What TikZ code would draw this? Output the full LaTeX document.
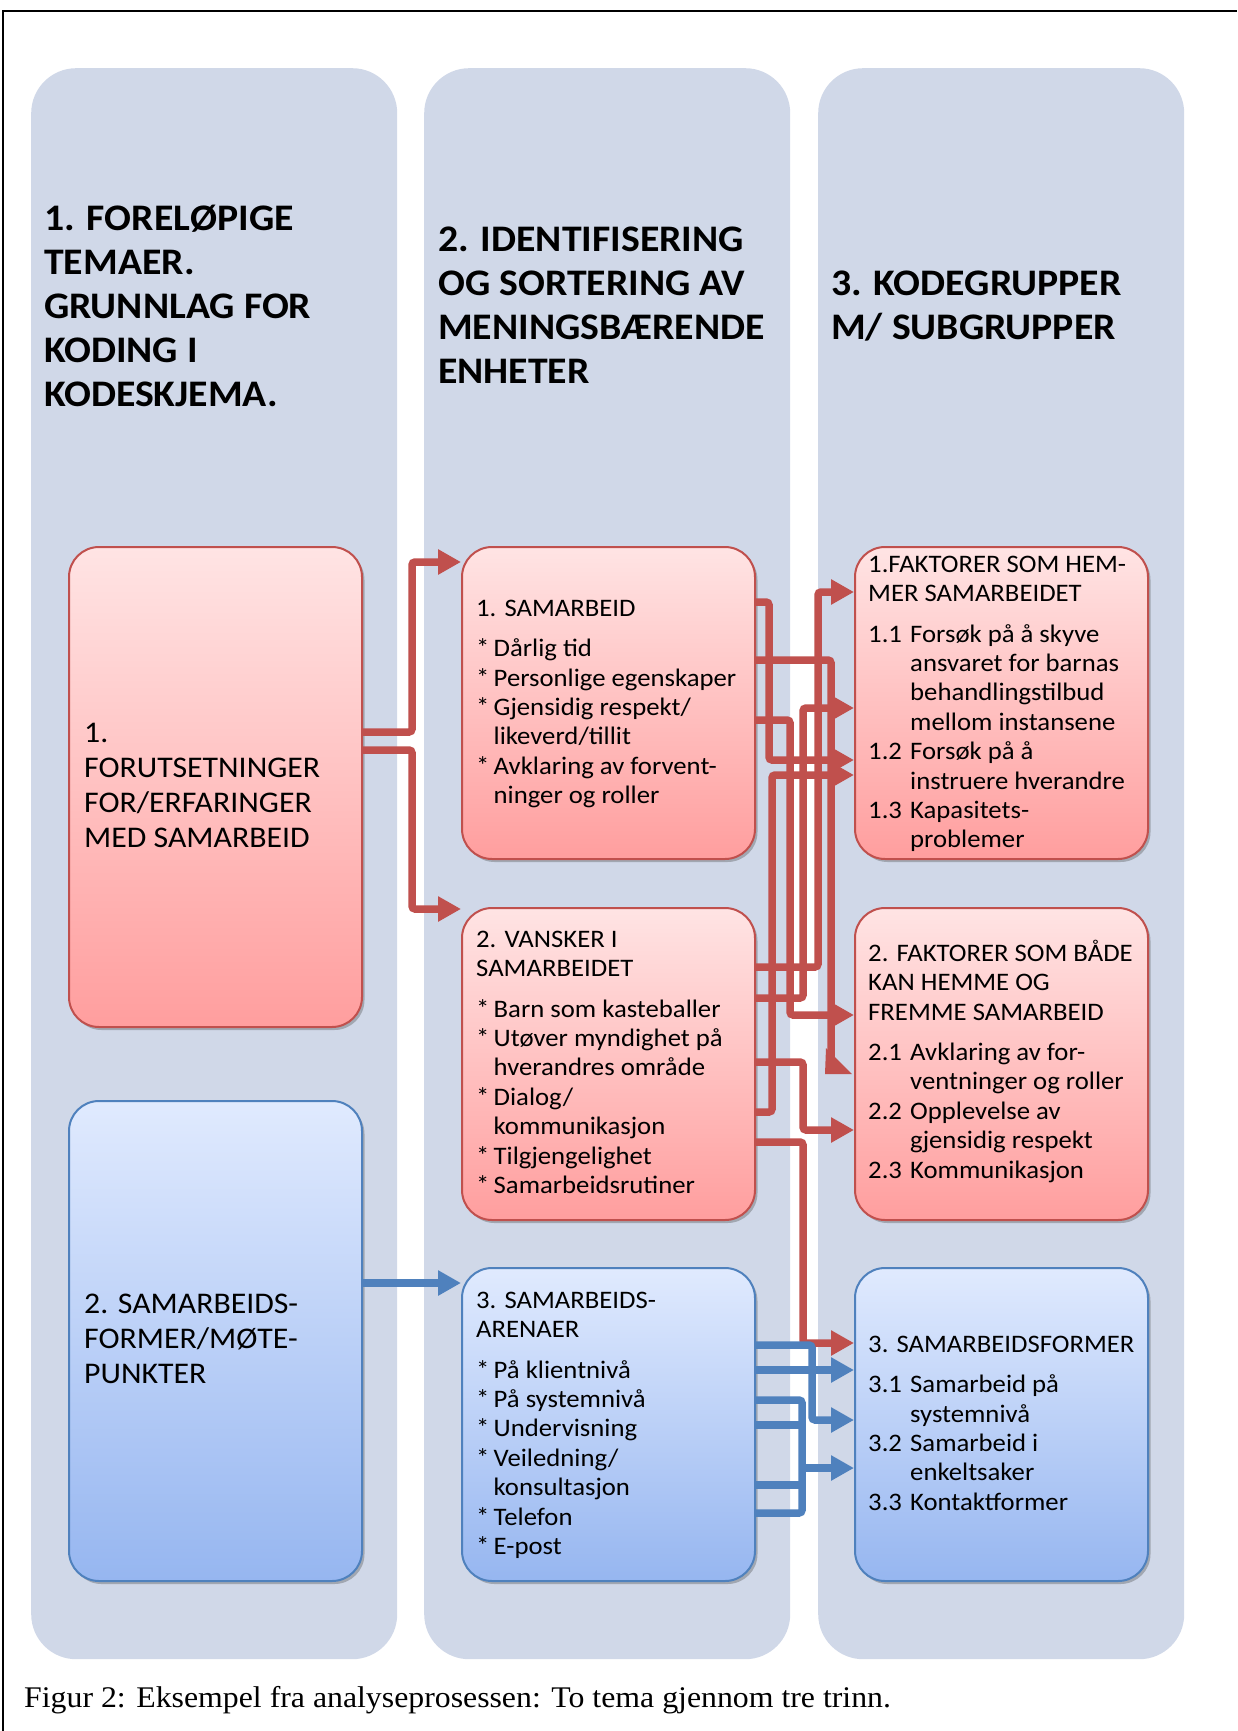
\documentclass[tikz,border=0pt]{standalone}
\usepackage{fontspec}
\setmainfont[FakeStretch=1.06]{Carlito}
\newfontfamily\capfont[FakeStretch=1.06]{Liberation Serif}
\usetikzlibrary{arrows.meta,shadows}
\definecolor{colbg}{HTML}{D0D8E8}
\definecolor{redln}{HTML}{C0504D}
\definecolor{redtop}{HTML}{FFE4E4}
\definecolor{redbot}{HTML}{FF9E9E}
\definecolor{blueln}{HTML}{4F81BD}
\definecolor{bluetop}{HTML}{E0EAFE}
\definecolor{bluebot}{HTML}{96B6F0}
\newcommand\stt[1]{\rule{0pt}{#1}}
\newcommand\bul{\makebox[17.5pt][l]{*}}
\newcommand\ind{\hspace*{17.5pt}}
\newcommand\nm[1]{\makebox[42pt][l]{#1}}
\newcommand\nind{\hspace*{42pt}}
\begin{document}
\begin{tikzpicture}[x=1pt,y=-1pt,
  colbox/.style={fill=colbg, draw=none, rounded corners=45pt, anchor=north west, inner sep=0pt, minimum width=366pt, minimum height=1591pt},
  boxbase/.style={line width=2pt, rounded corners=30pt, anchor=north west, inner sep=0pt, minimum width=293pt,
     drop shadow={shadow xshift=2.5pt, shadow yshift=-3pt, opacity=0.35, fill=black!70}},
  redbox/.style={boxbase, draw=redln, top color=redtop, bottom color=redbot},
  bluebox/.style={boxbase, draw=blueln, top color=bluetop, bottom color=bluebot},
  hd/.style={anchor=north west, inner sep=0pt, align=left, font=\bfseries\fontsize{37.5}{44}\selectfont},
  bigtxt/.style={anchor=north west, inner sep=0pt, align=left, font=\fontsize{30}{35}\selectfont},
  txt/.style={anchor=north west, inner sep=0pt, align=left, font=\fontsize{25.2}{29.4}\selectfont},
  conn/.style={line width=7.5pt, rounded corners=3pt},
  redline/.style={conn, draw=redln},
  blueline/.style={conn, draw=blueln},
  redarr/.style={redline, -{Triangle[length=23pt,width=24pt]}},
  bluearr/.style={blueline, -{Triangle[length=23pt,width=24pt]}}
]
\useasboundingbox (0,0) rectangle (1237,1731);
\fill[white] (0,0) rectangle (1237,1731);
\draw[line width=2.5pt] (3,1731) -- (3,11) -- (1237,11);

% columns
\node[colbox] (k1) at (31,68) {};
\node[colbox] (k2) at (424,68) {};
\node[colbox] (k3) at (818,68) {};

% headings
\node[hd] (h1) at (44,198) {\stt{32pt}1. FORELØPIGE\\TEMAER.\\GRUNNLAG FOR\\KODING I\\KODESKJEMA.};
\node[hd] (h2) at (438,219) {\stt{32pt}2. IDENTIFISERING\\OG SORTERING AV\\MENINGSBÆRENDE\\ENHETER};
\node[hd] (h3) at (831,263) {\stt{32pt}3. KODEGRUPPER\\M/ SUBGRUPPER};

% boxes
\node[redbox, minimum height=480pt] (c1a) at (68,546) {};
\node[bluebox, minimum height=480pt] (c1b) at (68,1100) {};
\node[redbox, minimum height=312pt] (c2a) at (461,546) {};
\node[redbox, minimum height=312pt] (c2b) at (461,907) {};
\node[bluebox, minimum height=313pt] (c2c) at (461,1267) {};
\node[redbox, minimum height=312pt] (c3a) at (854,546) {};
\node[redbox, minimum height=312pt] (c3b) at (854,907) {};
\node[bluebox, minimum height=313pt] (c3c) at (854,1267) {};

% box texts
\node[bigtxt] (t1a) at (84,716.5) {\stt{26pt}1.\\FORUTSETNINGER\\FOR/ERFARINGER\\MED SAMARBEID};
\node[bigtxt] (t1b) at (84,1287.5) {\stt{26pt}2. SAMARBEIDS-\\FORMER/MØTE-\\PUNKTER};

\node[txt] (t2a) at (476,592) {\stt{24pt}1. SAMARBEID\\[11pt]
 \bul Dårlig tid\\ \bul Personlige egenskaper\\ \bul Gjensidig respekt/\\ \ind likeverd/tillit\\
 \bul Avklaring av forvent-\\ \ind ninger og roller};
\node[txt] (t2b) at (476,923) {\stt{24pt}2. VANSKER I\\SAMARBEIDET\\[11pt]
 \bul Barn som kasteballer\\ \bul Utøver myndighet på\\ \ind hverandres område\\
 \bul Dialog/\\ \ind kommunikasjon\\ \bul Tilgjengelighet\\ \bul Samarbeidsrutiner};
\node[txt] (t2c) at (476,1284) {\stt{24pt}3. SAMARBEIDS-\\ARENAER\\[11pt]
 \bul På klientnivå\\ \bul På systemnivå\\ \bul Undervisning\\ \bul Veiledning/\\
 \ind konsultasjon\\ \bul Telefon\\ \bul E-post};

\node[txt] (t3a) at (868,548) {\stt{24pt}1.FAKTORER SOM HEM-\\MER SAMARBEIDET\\[11pt]
 \nm{1.1}Forsøk på å skyve\\ \nind ansvaret for barnas\\ \nind behandlingstilbud\\ \nind mellom instansene\\
 \nm{1.2}Forsøk på å\\ \nind instruere hverandre\\ \nm{1.3}Kapasitets-\\ \nind problemer};
\node[txt] (t3b) at (868,937) {\stt{24pt}2. FAKTORER SOM BÅDE\\KAN HEMME OG\\FREMME SAMARBEID\\[11pt]
 \nm{2.1}Avklaring av for-\\ \nind ventninger og roller\\ \nm{2.2}Opplevelse av\\ \nind gjensidig respekt\\
 \nm{2.3}Kommunikasjon};
\node[txt] (t3c) at (868,1328) {\stt{24pt}3. SAMARBEIDSFORMER\\[11pt]
 \nm{3.1}Samarbeid på\\ \nind systemnivå\\ \nm{3.2}Samarbeid i\\ \nind enkeltsaker\\ \nm{3.3}Kontaktformer};

% column 1 -> column 2
\draw[redarr] (c1a.east |- 0,732) -- (412,732) -- (412,562) -- (c2a.west |- 0,562);
\draw[redarr] (c1a.east |- 0,750) -- (412,750) -- (412,909) -- (c2b.west |- 0,909);
\draw[bluearr] (c1b.east |- 0,1283) -- (c2c.west |- 0,1283);

% column 2 -> column 3 (red)
\draw[redarr] (c2a.east |- 0,602) -- (769,602) -- (769,760) -- (c3a.west |- 0,760);
\coordinate (dn) at (831,1060);
\draw[redline] (c2a.east |- 0,660) -- (831,660) -- (dn);
\fill[redln] (826,1048) -- (852,1074) -- (825,1074) -- cycle;
\draw[redarr] (c2a.east |- 0,720) -- (790,720) -- (790,1015) -- (c3b.west |- 0,1015);
\draw[redarr] (c2b.east |- 0,967) -- (818,967) -- (818,592) -- (c3a.west |- 0,592);
\draw[redarr] (c2b.east |- 0,998) -- (803,998) -- (803,708) -- (c3a.west |- 0,708);
\draw[redarr] (c2b.east |- 0,1062) -- (803,1062) -- (803,1130) -- (c3b.west |- 0,1130);
\draw[redarr] (c2b.east |- 0,1112) -- (772,1112) -- (772,775) -- (c3a.west |- 0,775);
\draw[redarr] (c2b.east |- 0,1142) -- (803,1142) -- (803,1343) -- (c3c.west |- 0,1343);

% column 2 -> column 3 (blue)
\draw[bluearr] (c2c.east |- 0,1345) -- (812,1345) -- (812,1420) -- (c3c.west |- 0,1420);
\draw[bluearr] (c2c.east |- 0,1370) -- (c3c.west |- 0,1370);
\draw[blueline] (c2c.east |- 0,1400) -- (802,1400) -- (802,1513) -- (c2c.east |- 0,1513);
\draw[blueline] (c2c.east |- 0,1425) -- (802,1425);
\draw[blueline] (c2c.east |- 0,1485) -- (802,1485);
\coordinate (bj) at (802,1468);
\draw[bluearr] (bj) -- (c3c.west |- 0,1468);

% caption
\node[anchor=north west, inner sep=0pt, font=\capfont\fontsize{30}{36}\selectfont] (cap) at (24,1680)
  {\stt{27pt}Figur 2: Eksempel fra analyseprosessen: To tema gjennom tre trinn.};
\end{tikzpicture}
\end{document}
